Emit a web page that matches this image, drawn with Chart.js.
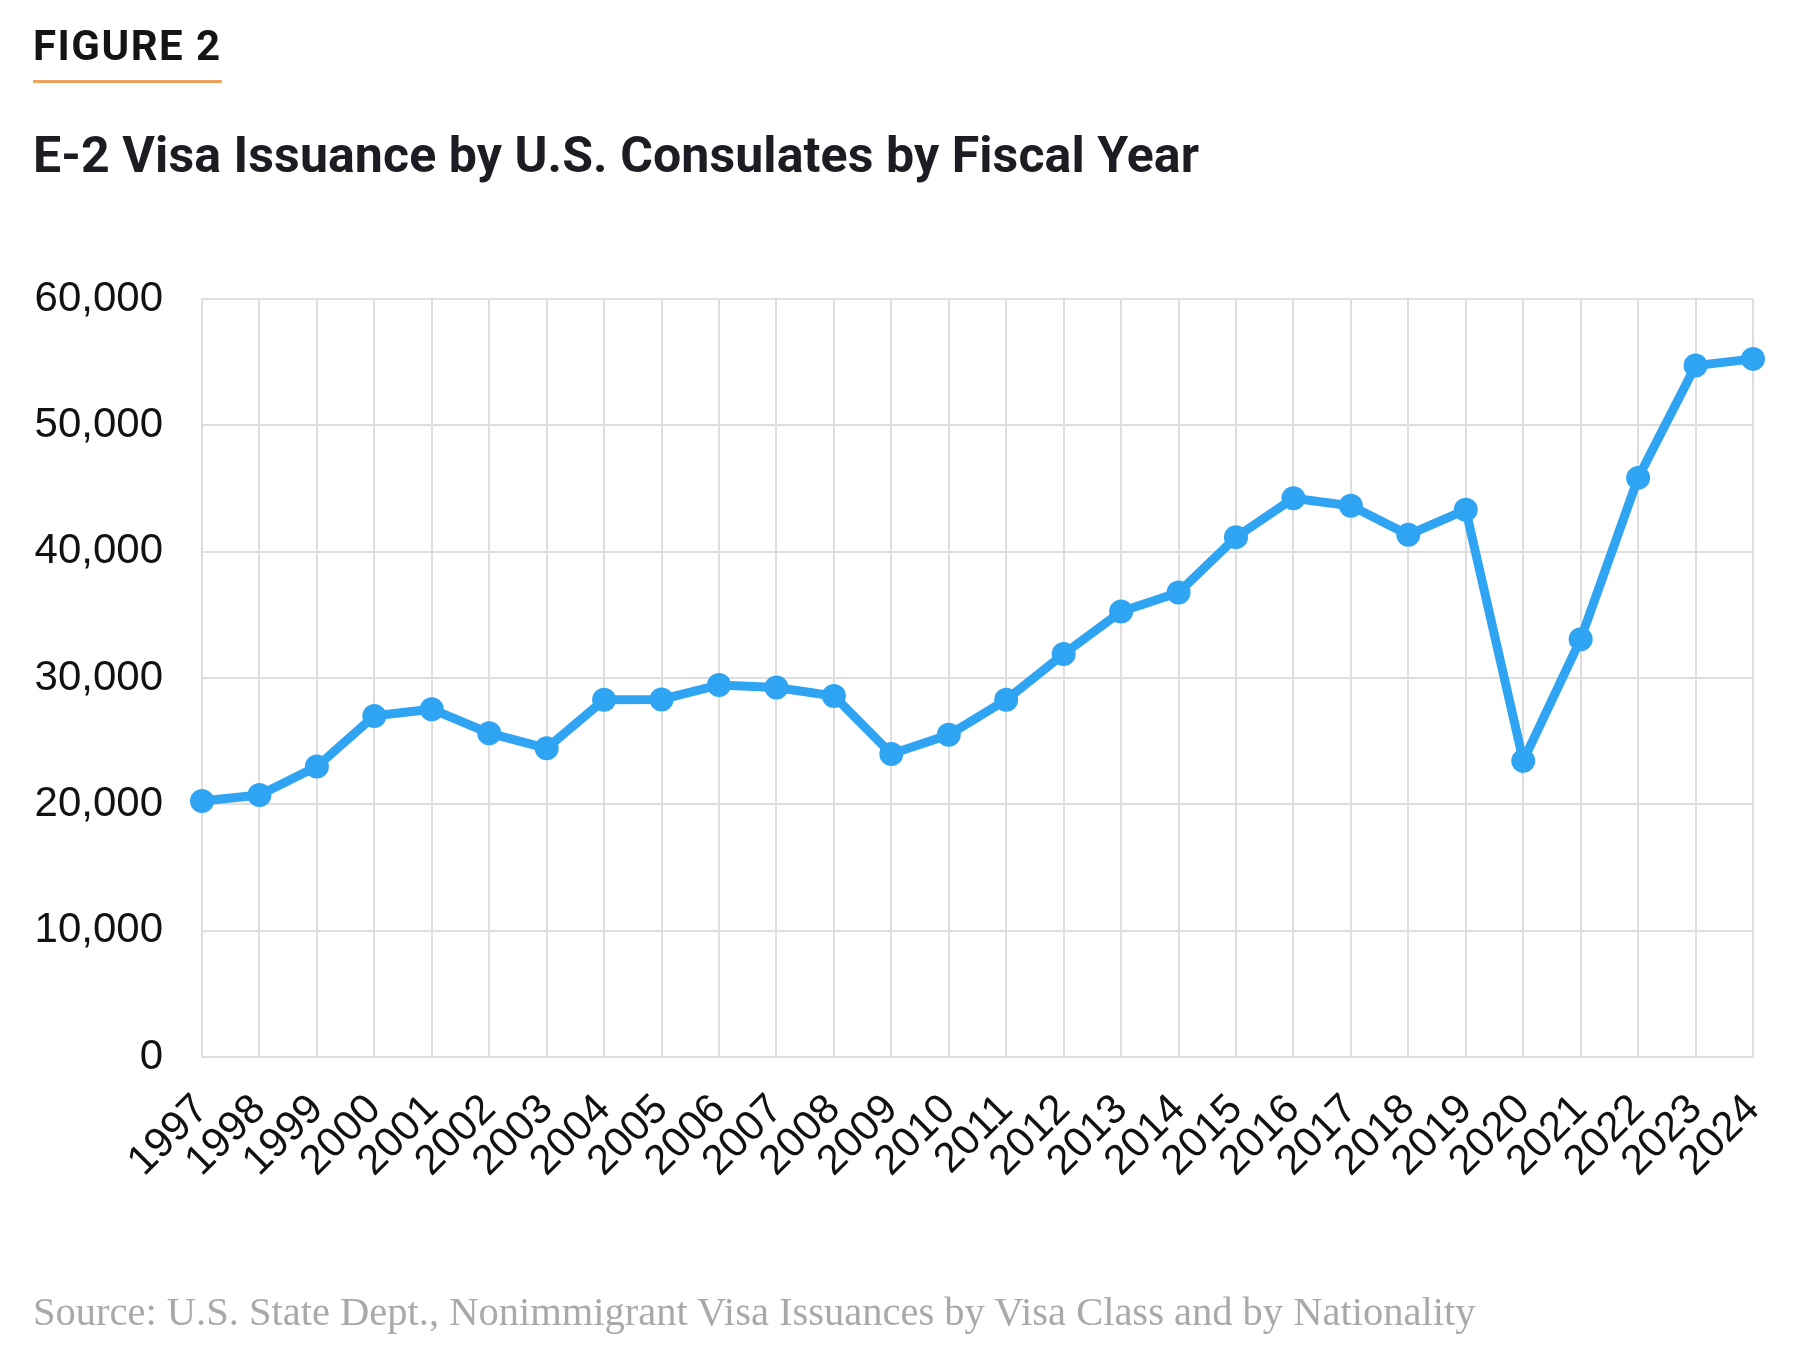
<!DOCTYPE html>
<html>
<head>
<meta charset="utf-8">
<title>E-2 Visa Issuance by U.S. Consulates by Fiscal Year</title>
<script src="https://cdn.jsdelivr.net/npm/chart.js@4"></script>
<style>
  html, body { margin: 0; padding: 0; background: #fff; }
  body { width: 1800px; height: 1361px; position: relative; overflow: hidden; }
  #wrap { position: absolute; left: 0; top: 0; width: 1800px; height: 1361px; }
  .txt { position: absolute; white-space: nowrap; line-height: 1; }
  #fig { left: 33px; top: 21px; font: 700 42px Roboto, sans-serif; letter-spacing: 1.5px; color: #141414; }
  #rule { position: absolute; left: 33px; top: 80px; width: 189px; height: 3px; background: #eba25e; }
  #title { left: 33px; top: 126px; font: 700 50px Roboto, sans-serif; color: #1c1c22; letter-spacing: 0.1px; }
  #source { left: 33px; top: 1288px; font: 400 40.5px "Liberation Serif", serif; color: #a9a9a9; }
</style>
</head>
<body>
<div id="wrap"><canvas id="chart"></canvas></div>
<div class="txt" id="fig">FIGURE 2</div>
<div id="rule"></div>
<div class="txt" id="title">E-2 Visa Issuance by U.S. Consulates by Fiscal Year</div>
<div class="txt" id="source">Source: U.S. State Dept., Nonimmigrant Visa Issuances by Visa Class and by Nationality</div>

<script>
// fiscal years on the x axis
const years = ['1997', '1998', '1999', '2000', '2001', '2002', '2003', '2004', '2005', '2006',
  '2007', '2008', '2009', '2010', '2011', '2012', '2013', '2014', '2015', '2016',
  '2017', '2018', '2019', '2020', '2021', '2022', '2023', '2024'];

// E-2 visas issued
const issuances = [20270, 20740, 22990, 27000, 27530, 25630, 24440, 28270, 28300, 29450,
  29250, 28580, 23990, 25500, 28270, 31900, 35260, 36760, 41150, 44230,
  43630, 41330, 43310, 23440, 33070, 45840, 54730, 55260];

// y axis range
const yMin = 0;
const yMax = 60000;
const yStep = 10000;

const blue = '#2fa4f3';
const gridColor = '#dedede';
const tickFont = { family: '"Liberation Sans", Arial, sans-serif', size: 42 };

new Chart(document.getElementById('chart'), {
  type: 'line',
  data: {
    labels: years,
    datasets: [{
      label: 'E-2 visas issued',
      data: issuances,
      borderColor: blue,
      backgroundColor: blue,
      borderWidth: 9,
      pointRadius: 12,
      pointBorderWidth: 0,
      pointBackgroundColor: blue,
      tension: 0,
      clip: false
    }]
  },
  options: {
    responsive: true,
    maintainAspectRatio: false,
    animation: false,
    layout: { padding: { top: 299, right: 47, left: 0, bottom: 0 } },
    plugins: {
      legend: { display: false },
      tooltip: { enabled: false }
    },
    scales: {
      x: {
        offset: false,
        grid: { color: gridColor, lineWidth: 2, drawTicks: false },
        border: { color: gridColor, width: 2 },
        ticks: {
          color: '#111',
          font: tickFont,
          minRotation: 45,
          maxRotation: 45,
          padding: 28,
          autoSkip: false
        },
        // fixed axis band; drop the extra side padding rotated labels ask for
        afterFit: scale => {
          scale.height = 1361 - 1057;
          scale.paddingLeft = 0;
          scale.paddingRight = 0;
        }
      },
      y: {
        min: yMin,
        max: yMax,
        grid: { color: gridColor, lineWidth: 2, drawTicks: false },
        border: { color: gridColor, width: 2 },
        ticks: {
          stepSize: yStep,
          color: '#111',
          font: tickFont,
          padding: 39,
          callback: v => v.toLocaleString('en-US')
        },
        afterFit: scale => { scale.width = 202; }
      }
    }
  }
});
</script>
</body>
</html>
